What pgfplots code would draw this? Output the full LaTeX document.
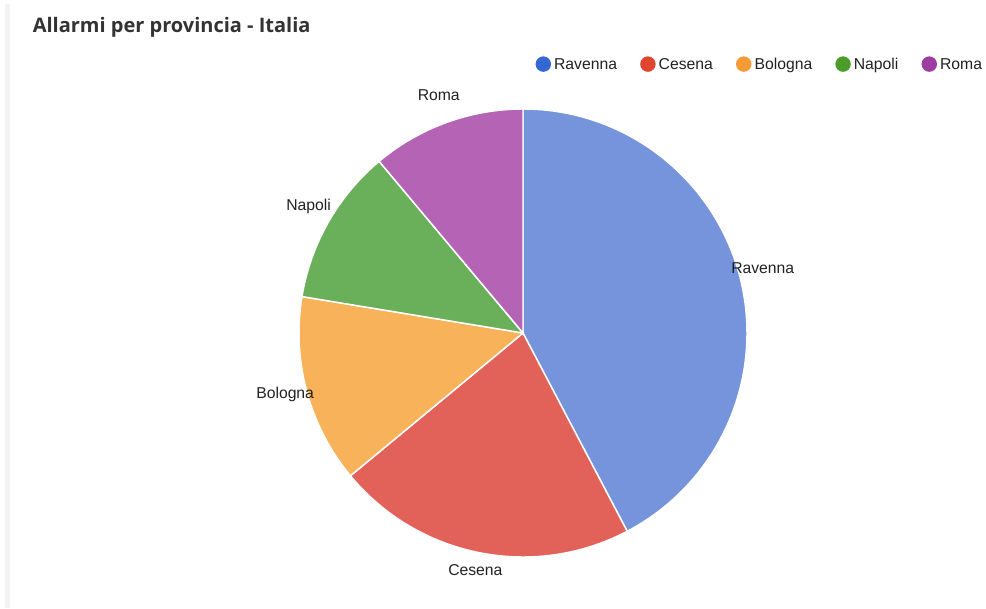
\documentclass[border=0pt]{standalone}
\usepackage{pgfplots}
\pgfplotsset{compat=1.18}
\usepackage{pgfplotstable}
\usepackage{fontspec}
\setmainfont{Liberation Sans}
\newfontfamily\titlefont{Open Sans}

\definecolor{slice0}{HTML}{7694DB}
\definecolor{slice1}{HTML}{E2625A}
\definecolor{slice2}{HTML}{F7B25A}
\definecolor{slice3}{HTML}{6AB05B}
\definecolor{slice4}{HTML}{B463B5}
\definecolor{lc0}{HTML}{3467D1}
\definecolor{lc1}{HTML}{E04530}
\definecolor{lc2}{HTML}{F59A35}
\definecolor{lc3}{HTML}{4C9C2A}
\definecolor{lc4}{HTML}{9B3EA0}
\definecolor{txt}{HTML}{222222}
\definecolor{ttl}{HTML}{333333}
\definecolor{strip}{HTML}{F3F3F3}

\pgfplotstableread{
name value
Ravenna 42.3
Cesena 21.7
Bologna 13.6
Napoli 11.3
Roma 11.1
}\piedata

\begin{document}
\begin{tikzpicture}
\begin{axis}[
  x=0.75pt, y=0.75pt,
  xmin=0, xmax=986, ymin=0, ymax=608,
  hide axis, clip=false, disabledatascaling,
  legend columns=5,
  legend image code/.code={\path (0pt,-4.5pt) rectangle (0pt,9pt); \fill[#1] (0pt,1.8pt) circle (5.8pt);},
  legend style={draw=none, fill=none, inner sep=0pt, outer sep=0pt,
    at={(axis cs:535.6,543)}, anchor=west,
    font=\fontsize{11.8}{14}\selectfont, text=txt,
    nodes={inner sep=0pt, outer sep=0pt, text height=9pt, text depth=4.5pt},
    column sep=0pt,
    /tikz/every odd column/.append style={column sep=2.3pt},
    /tikz/every even column/.append style={column sep=17.3pt}},
]
\fill[white] (axis cs:0,0) rectangle (axis cs:986,608);
\fill[strip] (axis cs:5,0) rectangle (axis cs:10,604);

\pgfmathsetmacro\cum{0}
\pgfplotsforeachungrouped \i in {0,...,4}{%
  \pgfplotstablegetelem{\i}{value}\of\piedata
  \let\v=\pgfplotsretval
  \pgfmathsetmacro\sa{90-3.6*\cum}%
  \pgfmathsetmacro\cum{\cum+\v}%
  \pgfmathsetmacro\ea{90-3.6*\cum}%
  \edef\temp{\noexpand\fill[fill=slice\i, draw=white, line width=1.1pt, line join=round] (axis cs:523,275) -- ++(\sa:168pt) arc[start angle=\sa, end angle=\ea, radius=168pt] -- cycle;}%
  \temp
}

\node[anchor=base west, inner sep=0pt, text=ttl, font=\titlefont\bfseries\fontsize{15}{18}\selectfont] at (axis cs:32.5,575.7) {Allarmi per provincia - Italia};

\begin{scope}[every node/.style={anchor=base west, inner sep=0pt, text=txt, font=\fontsize{11.8}{14}\selectfont}]
\node at (axis cs:417.5,507.3) {Roma};
\node at (axis cs:731,334) {Ravenna};
\node at (axis cs:256,210) {Bologna};
\node at (axis cs:448,33) {Cesena};
\node at (axis cs:286,397.3) {Napoli};
\end{scope}

\addlegendimage{fill=lc0, draw=none}\addlegendentry{Ravenna}
\addlegendimage{fill=lc1, draw=none}\addlegendentry{Cesena}
\addlegendimage{fill=lc2, draw=none}\addlegendentry{Bologna}
\addlegendimage{fill=lc3, draw=none}\addlegendentry{Napoli}
\addlegendimage{fill=lc4, draw=none}\addlegendentry{Roma}
\end{axis}
\end{tikzpicture}
\end{document}
